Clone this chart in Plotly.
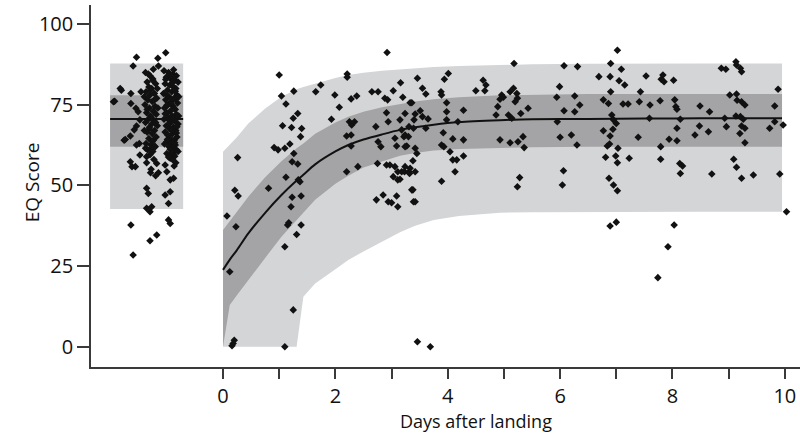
import plotly.graph_objects as go

# ---------------- data ----------------
# fitted model (post-landing)
curve_days = [0, 0.12, 0.25, 0.45, 0.75, 1.04, 1.31, 1.43, 1.64, 2.0, 2.23, 2.5, 2.83,
              3.15, 3.42, 3.75, 4.2, 4.93, 5.5, 6.5, 7.5, 8.5, 9.95]
curve_mean = [23.8, 27.0, 30.0, 35.1, 41.5, 47.0, 51.5, 53.3, 56.5, 60.5, 62.5, 64.2, 65.8,
              67.2, 68.0, 68.8, 69.6, 70.2, 70.5, 70.6, 70.7, 70.8, 70.8]
ci_low = [0.0, 12.9, 16.0, 20.7, 27.5, 34.1, 39.2, 41.2, 45.5, 50.5, 53.0, 55.5, 57.5,
          59.2, 60.0, 60.8, 61.3, 61.6, 61.8, 62.0, 62.0, 62.0, 62.0]
ci_high = [36.2, 39.0, 42.0, 46.5, 52.5, 57.5, 61.5, 63.0, 66.0, 69.5, 71.3, 72.8, 74.2,
           75.2, 76.0, 76.7, 77.3, 77.9, 78.1, 78.3, 78.3, 78.3, 78.3]
pi_low = [0.0, 0.0, 0.0, 0.0, 0.0, 0.0, 0.0, 15.5, 19.6, 24.0, 26.9, 29.5, 32.5,
          35.5, 37.5, 39.3, 40.5, 41.5, 41.7, 41.8, 41.8, 41.8, 41.8]
pi_high = [60.4, 62.5, 65.0, 69.2, 73.8, 77.5, 79.8, 80.5, 81.6, 83.3, 84.2, 84.9, 85.5,
           85.9, 86.3, 86.7, 87.0, 87.3, 87.5, 87.7, 87.8, 87.8, 87.8]

# pre-flight baseline summary
pre_days = [-2.01, -0.71]
pre_mean = 70.6
pre_ci = [62.0, 77.9]
pre_pi = [42.7, 87.8]

# pre-flight observations (day, score)
pre_points_sparse = [
    (-1.02, 91.1), (-1.54, 89.7), (-1.16, 89.4), (-1.60, 87.0), (-1.15, 87.0), (-1.81, 79.5),
    (-1.64, 78.5), (-1.46, 79.0), (-1.93, 76.1), (-1.64, 75.4), (-1.55, 73.9), (-1.51, 72.8),
    (-1.48, 70.3), (-1.54, 68.4), (-1.58, 67.2), (-1.65, 65.3), (-1.76, 64.0), (-1.54, 62.5),
    (-1.48, 59.4), (-1.36, 58.9), (-1.27, 61.5), (-1.21, 62.0), (-1.00, 59.9), (-0.94, 58.4),
    (-0.88, 59.4), (-0.85, 60.9), (-1.65, 57.3), (-1.56, 55.8), (-1.29, 53.9), (-1.18, 56.8),
    (-1.15, 53.9), (-1.03, 56.3), (-1.00, 54.2), (-0.94, 51.7), (-0.88, 52.2), (-1.36, 49.1),
    (-1.33, 47.5), (-1.03, 47.0), (-0.94, 48.0), (-0.97, 44.4), (-1.36, 42.9), (-1.27, 43.4),
    (-1.30, 41.8), (-0.97, 39.3), (-0.94, 38.2), (-1.64, 37.7), (-1.18, 34.6), (-1.30, 32.8),
    (-1.60, 28.4), (-1.95, 75.9), (-1.83, 80.0), (-1.49, 63.0), (-1.62, 55.8), (-1.74, 64.2),
]
pre_points_col_a = [
    (-1.38, 85), (-1.30, 84), (-1.25, 83), (-1.35, 82), (-1.20, 81.5), (-1.32, 80.5), (-1.27, 80),
    (-1.37, 79), (-1.22, 78.5), (-1.30, 78), (-1.18, 77), (-1.34, 76.5), (-1.26, 76), (-1.39, 75),
    (-1.21, 74.5), (-1.31, 74), (-1.24, 73), (-1.36, 72.5), (-1.19, 72), (-1.29, 71.5), (-1.33, 70.5),
    (-1.23, 70), (-1.38, 69.5), (-1.27, 69), (-1.17, 68.5), (-1.31, 68), (-1.22, 67), (-1.35, 66.5),
    (-1.26, 66), (-1.19, 65), (-1.32, 64.5), (-1.24, 64), (-1.37, 63), (-1.28, 62.5), (-1.21, 62),
    (-1.34, 61), (-1.25, 60.5), (-1.30, 59.5), (-1.23, 58), (-1.36, 57), (-1.28, 55), (-1.20, 53),
    (-1.33, 84.5), (-1.25, 82.5), (-1.29, 79.5), (-1.22, 76.5), (-1.35, 73.5), (-1.28, 71),
    (-1.20, 69.5), (-1.31, 67.5), (-1.26, 63.5), (-1.38, 61.5), (-1.24, 86), (-1.17, 80),
    (-1.40, 77.5), (-1.16, 74), (-1.40, 67),
]
pre_points_col_b = [
    (-1.05, 85.5), (-0.97, 85), (-0.89, 84.5), (-0.83, 84), (-1.01, 83.5), (-0.93, 83), (-0.86, 82.5),
    (-0.80, 82), (-1.03, 81.5), (-0.95, 81), (-0.88, 80.5), (-0.84, 80), (-0.99, 79.5), (-0.91, 79),
    (-1.06, 78.5), (-0.82, 78), (-0.96, 77.5), (-0.87, 77), (-1.02, 76.5), (-0.92, 76), (-0.81, 75.5),
    (-0.98, 75), (-0.89, 74.5), (-1.04, 74), (-0.85, 73.5), (-0.94, 73), (-1.00, 72.5), (-0.83, 72),
    (-0.91, 71.5), (-0.97, 71), (-1.05, 70.5), (-0.86, 70), (-0.93, 69.5), (-0.80, 69), (-1.01, 68.5),
    (-0.88, 68), (-0.95, 67.5), (-0.84, 67), (-1.03, 66.5), (-0.90, 66), (-0.98, 65.5), (-0.82, 65),
    (-0.94, 64.5), (-0.87, 64), (-1.00, 63.5), (-0.92, 63), (-0.85, 62.5), (-0.96, 62), (-0.89, 61.5),
    (-0.83, 61), (-0.93, 60), (-0.86, 59), (-0.90, 58), (-0.84, 57), (-0.88, 85.8), (-0.95, 84.2),
    (-1.02, 82.8), (-0.90, 81.8), (-0.85, 79.2), (-0.99, 77.8), (-0.93, 75.2), (-0.87, 73.8),
    (-1.03, 72.2), (-0.96, 70.2), (-0.82, 68.2), (-0.91, 67.2), (-0.99, 64.2), (-0.86, 63.2),
    (-0.94, 61.2), (-0.80, 60.5), (-0.97, 58.8), (-0.91, 83.8), (-0.84, 76.8), (-1.00, 74.8),
    (-0.89, 71.2), (-0.95, 69.2), (-0.83, 66.2), (-1.04, 62.8), (-0.87, 56.0), (-0.79, 71.5),
    (-0.79, 77.5),
]

# post-landing observations (day, score)
post_points_early = [
    (0.21, 48.5), (0.27, 46.7), (0.07, 40.5), (0.23, 37.2), (0.12, 23.2), (0.18, 1.0), (0.20, 2.0),
    (0.16, 0.3), (1.10, 0.0), (1.25, 11.4), (1.10, 31.0), (1.31, 34.8), (1.39, 37.7), (1.15, 37.7),
    (1.17, 38.4), (1.21, 43.4), (1.23, 46.3), (1.39, 46.7), (0.81, 49.1), (1.34, 51.7), (1.00, 84.2),
    (1.26, 79.2), (1.04, 77.7), (1.12, 75.2), (1.33, 72.3), (1.25, 70.8), (1.06, 68.5), (1.22, 67.9),
    (1.40, 67.6), (1.38, 65.1), (0.91, 61.7), (0.98, 61.0), (1.10, 61.5), (1.19, 62.8), (1.26, 59.9),
    (1.23, 57.3), (1.33, 56.6), (0.26, 58.6), (1.12, 52.5), (1.37, 51.1),
]
post_points_mid = [
    (2.73, 45.5), (2.94, 44.9), (3.00, 44.6), (3.11, 43.4), (3.09, 46.7), (3.39, 44.9), (3.11, 51.7),
    (3.36, 48.6), (2.92, 91.2), (2.21, 84.5), (2.21, 83.5), (1.74, 81.1), (1.65, 79.0), (1.99, 78.0),
    (2.07, 74.2), (1.93, 70.5), (2.28, 76.8), (2.38, 77.7), (2.25, 69.7), (2.29, 68.7), (2.34, 69.7),
    (2.20, 65.3), (2.28, 65.6), (2.28, 62.2), (2.20, 54.2), (2.40, 55.8), (2.65, 79.0), (2.76, 79.0),
    (2.88, 77.0), (2.93, 76.5), (3.03, 79.3), (3.16, 81.8), (3.20, 77.3), (3.33, 75.6), (2.72, 68.2),
    (2.91, 72.5), (2.94, 69.7), (3.15, 70.3), (3.18, 67.2), (3.31, 68.2), (3.40, 70.3), (2.76, 63.5),
    (2.81, 62.0), (3.06, 64.6), (3.09, 62.2), (3.22, 65.1), (3.27, 62.2), (2.75, 56.8), (2.91, 56.3),
    (2.97, 56.3), (3.06, 55.8), (3.11, 54.2), (3.03, 52.7), (3.23, 54.2), (3.31, 54.2), (3.42, 54.2),
    (2.85, 47.0), (3.46, 83.2), (4.01, 84.7), (3.94, 82.9), (3.55, 80.1), (3.61, 78.3), (3.88, 79.0),
    (3.89, 78.0), (4.63, 82.6), (4.68, 81.1), (4.50, 79.3), (4.66, 79.3), (3.36, 75.6), (3.24, 72.3),
    (3.42, 72.1), (3.51, 73.1), (3.55, 71.3), (3.65, 70.6), (3.98, 75.6), (3.98, 72.8), (4.28, 73.3),
    (4.18, 69.7), (3.98, 70.3), (3.39, 67.7), (3.24, 65.6), (3.30, 65.1), (3.61, 67.7), (3.92, 66.3),
    (3.89, 62.5), (3.93, 62.0), (4.09, 64.4), (4.28, 64.1), (4.04, 60.4), (4.09, 57.9), (4.16, 57.9),
    (4.28, 59.1), (4.13, 54.2), (3.24, 62.0), (3.42, 61.5), (3.45, 59.9), (3.38, 57.6), (3.24, 55.8),
    (3.33, 55.3), (3.32, 53.7), (3.18, 54.2), (3.15, 51.9), (3.38, 48.6), (3.42, 44.9), (3.89, 51.3),
    (3.46, 1.5), (3.69, 0.0),
]
post_points_late = [
    (4.96, 78.0), (5.11, 79.0), (4.99, 77.3), (5.17, 80.1), (5.23, 78.5), (5.24, 77.0), (5.20, 75.9),
    (4.93, 76.7), (4.89, 74.4), (5.43, 73.9), (5.30, 72.3), (5.08, 71.8), (5.14, 70.8), (4.86, 71.8),
    (5.18, 87.8), (6.07, 87.1), (6.31, 86.8), (6.69, 83.7), (4.93, 64.1), (5.11, 63.2), (5.25, 63.5),
    (5.34, 65.1), (5.36, 61.7), (5.28, 52.4), (5.24, 49.6), (5.94, 77.3), (5.95, 69.7), (6.00, 64.9),
    (6.07, 73.1), (6.20, 65.6), (6.26, 77.7), (6.35, 74.9), (6.30, 62.5), (6.26, 72.8), (6.06, 54.5),
    (6.04, 50.1), (5.99, 80.6), (7.02, 91.9), (6.90, 87.8), (7.09, 86.0), (6.89, 83.7), (7.05, 82.4),
    (7.15, 81.1), (7.53, 83.9), (7.83, 84.2), (7.80, 82.9), (7.85, 82.1), (8.02, 82.6), (6.90, 79.0),
    (7.43, 79.0), (6.77, 76.5), (6.86, 75.4), (7.12, 75.2), (7.21, 75.2), (7.41, 75.9), (7.60, 74.9),
    (7.78, 76.2), (8.04, 76.5), (8.06, 74.4), (8.08, 73.6), (6.92, 71.8), (6.95, 70.3), (7.00, 69.2),
    (7.59, 70.8), (8.14, 70.5), (6.77, 66.9), (6.94, 67.4), (6.89, 65.3), (7.39, 64.9), (8.08, 67.7),
    (7.94, 64.3), (8.08, 63.8), (7.79, 62.0), (7.79, 58.1), (6.84, 62.2), (6.88, 62.8), (7.03, 61.5),
    (6.81, 58.7), (6.99, 59.1), (7.02, 57.0), (7.23, 58.4), (6.87, 52.2), (6.95, 50.1), (7.02, 48.3),
    (8.13, 56.8), (8.18, 56.0), (8.14, 53.7), (8.70, 53.5), (8.49, 74.6), (8.66, 72.8), (8.48, 68.4),
    (8.64, 66.6), (8.40, 65.6), (8.87, 86.3), (8.95, 86.0), (9.13, 88.3), (9.14, 87.3), (9.21, 86.3),
    (9.23, 85.2), (9.02, 78.0), (9.14, 78.3), (9.15, 76.4), (9.23, 75.9), (9.29, 74.9), (8.93, 70.8),
    (8.96, 68.2), (9.13, 71.5), (9.21, 71.3), (9.26, 70.5), (9.23, 68.4), (9.29, 67.7), (9.20, 66.1),
    (9.29, 63.2), (9.09, 58.1), (9.14, 55.6), (9.23, 52.2), (9.44, 53.2), (9.88, 79.8), (9.82, 74.6),
    (9.73, 67.7), (9.82, 69.7), (9.97, 68.7), (9.91, 53.5), (10.03, 41.8), (6.89, 37.4), (7.00, 38.6),
    (8.03, 37.7), (7.92, 31.0), (7.74, 21.4),
]

x_tick_vals = list(range(0, 11))
x_tick_text = [str(v) if v % 2 == 0 else "" for v in x_tick_vals]
y_tick_vals = [0, 25, 50, 75, 100]

LIGHT = "#d4d5d7"
DARK = "#a4a4a6"
AXIS = "#3a3a3a"
TEXT = "#111111"
FONT = "Open Sans"

fig = go.Figure()

def band(xs, lo, hi, color):
    fig.add_trace(go.Scatter(x=xs, y=lo, mode="lines", line=dict(width=0, color=color),
                             hoverinfo="skip", showlegend=False))
    fig.add_trace(go.Scatter(x=xs, y=hi, mode="lines", line=dict(width=0, color=color),
                             fill="tonexty", fillcolor=color, hoverinfo="skip", showlegend=False))

# ---- pre-flight bands ----
band(pre_days, [pre_pi[0]] * 2, [pre_pi[1]] * 2, LIGHT)
band(pre_days, [pre_ci[0]] * 2, [pre_ci[1]] * 2, DARK)
fig.add_trace(go.Scatter(x=pre_days, y=[pre_mean] * 2, mode="lines",
                         line=dict(color="#111111", width=2), showlegend=False, hoverinfo="skip"))

# ---- post-landing bands ----
band(curve_days, pi_low, pi_high, LIGHT)
band(curve_days, ci_low, ci_high, DARK)
fig.add_trace(go.Scatter(x=curve_days, y=curve_mean, mode="lines",
                         line=dict(color="#111111", width=2, shape="spline", smoothing=0.8),
                         showlegend=False, hoverinfo="skip"))

# ---- observations ----
all_pts = pre_points_sparse + pre_points_col_a + pre_points_col_b + \
    post_points_early + post_points_mid + post_points_late
fig.add_trace(go.Scatter(x=[p[0] for p in all_pts], y=[p[1] for p in all_pts], mode="markers",
                         marker=dict(symbol="diamond", size=5.8, color="#111111",
                                     line=dict(width=0)),
                         showlegend=False))

fig.update_layout(
    width=800, height=436,
    margin=dict(l=91, r=0, t=5, b=69),
    paper_bgcolor="white", plot_bgcolor="white",
    font=dict(family=FONT, size=20, color=TEXT),
    showlegend=False,
    xaxis=dict(range=[-2.35, 10.27], showgrid=False, zeroline=False, showline=True,
               linecolor=AXIS, linewidth=1.6, ticks="outside", ticklen=10, tickwidth=1.6,
               tickcolor=AXIS, tickvals=x_tick_vals, ticktext=x_tick_text,
               tickfont=dict(size=20, family=FONT, color=TEXT)),
    yaxis=dict(range=[-6.3, 105.9], showgrid=False, zeroline=False, showline=True,
               linecolor=AXIS, linewidth=1.6, ticks="outside", ticklen=12, tickwidth=1.6,
               tickcolor=AXIS, tickvals=y_tick_vals,
               tickfont=dict(size=20, family=FONT, color=TEXT)),
    annotations=[
        dict(text="EQ Score", xref="paper", yref="y", x=-0.083, y=51, textangle=-90,
             showarrow=False, font=dict(size=19, family=FONT, color=TEXT),
             xanchor="center", yanchor="middle"),
        dict(text="Days after landing", xref="x", yref="paper", x=4.5, y=-0.15,
             showarrow=False, font=dict(size=18, family=FONT, color=TEXT),
             xanchor="center", yanchor="middle"),
    ],
)

fig.write_html("out.html", config={"displayModeBar": False},
               post_script="document.body.style.margin='0';")
